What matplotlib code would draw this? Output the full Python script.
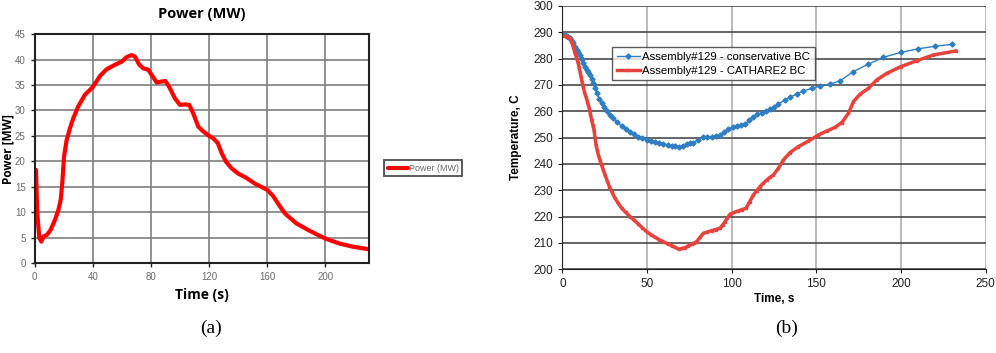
import numpy as np
import matplotlib
matplotlib.use('Agg')
import matplotlib.pyplot as plt

# ===== DATA =====
# (a) power transient
power_t = [0.9, 1.8, 3.2, 4.6, 6, 8.3, 11, 14, 16.3, 17.9, 19, 20.2, 22, 24.3, 26.6, 30,
           34.6, 40, 45, 49.5, 55.3, 59.9, 63.3, 66.7, 69, 72, 74.8, 78.2, 80.5, 84, 87.4,
           90, 93, 96.5, 100, 103.4, 106.4, 109, 112.6, 116, 120, 123, 126, 128.7, 131.7,
           135.6, 140, 145.9, 151.6, 160, 164, 167.7, 172, 180, 189.4, 200, 210, 219, 230]
power_mw = [18.3, 9.8, 4.9, 4.2, 5.2, 5.5, 6.5, 8.5, 10.4, 12.4, 15.7, 20.9, 24.2, 26.5, 28.5, 30.8,
            33.1, 34.6, 36.8, 38.1, 39.0, 39.6, 40.5, 40.9, 40.6, 39.0, 38.3, 38.0, 37.0, 35.5, 35.7,
            35.8, 34.4, 32.4, 31.1, 31.2, 31.1, 29.5, 26.8, 25.9, 25.0, 24.5, 23.6, 21.6, 19.9,
            18.6, 17.6, 16.7, 15.6, 14.4, 13.2, 11.6, 9.8, 7.8, 6.3, 4.8, 3.8, 3.2, 2.7]

# (b) assembly #129 temperature, conservative BC
cons_t = [0, 1.3, 2.6, 3.5, 4.5, 5.5, 6.5, 7.5, 8.5, 9.5, 10.4, 11.4, 12.4, 13.4, 14.4, 15.3,
          16.3, 17.3, 18.3, 19.3, 20.3, 21.7, 23.2, 24.7, 26.2, 28.1, 30.1, 32.5, 35, 37.5,
          40, 42.5, 44.9, 47.3, 49.8, 52.2, 54.7, 57.1, 59.6, 62.1, 64.6, 66.7, 68.9, 71.1,
          73.4, 75.4, 77.4, 80.3, 83.3, 85.7, 88.2, 90.6, 93.1, 95.5, 98, 100.5, 103, 105.4,
          107.9, 110.3, 112.8, 115.2, 117.7, 120.1, 122.6, 125.1, 127.6, 131.5, 134.4, 138.4,
          142.3, 147.2, 152.2, 158, 164, 171.9, 180.3, 189.6, 200, 209.8, 220, 229.9]
cons_temp = [289.0, 288.9, 288.7, 288.3, 287.7, 286.8, 285.8, 284.6, 283.3, 282.4, 281.4, 279.8,
             278.2, 277.0, 275.7, 274.8, 273.8, 272.2, 270.6, 268.7, 266.8, 264.8, 263.0, 261.5,
             260.1, 258.6, 257.3, 255.8, 254.4, 253.3, 252.3, 251.3, 250.4, 249.7, 249.1, 248.6,
             248.2, 247.8, 247.5, 247.2, 246.9, 246.7, 246.6, 247.0, 247.5, 247.8, 248.1, 249.2,
             250.1, 250.3, 250.4, 250.6, 251.0, 252.0, 253.2, 253.9, 254.4, 254.8, 255.1, 256.6,
             258.0, 258.8, 259.5, 260.2, 260.8, 261.8, 262.8, 264.3, 265.3, 266.6,
             267.7, 268.7, 269.6, 270.3, 271.6, 275.1, 277.8, 280.5, 282.4, 283.7, 284.7, 285.4]

# (b) assembly #129 temperature, CATHARE2 BC
cath_t = [0, 1.3, 2.6, 3.5, 4.5, 5.3, 6.1, 6.8, 7.5, 8.3, 9.1, 9.8, 10.4, 11.0, 11.6, 12.3,
          13.0, 13.9, 14.8, 15.3, 15.9, 16.6, 17.3, 18.0, 18.7, 19.3, 19.9, 20.6, 21.3, 22.2,
          23.2, 24.2, 25.2, 26.5, 27.8, 29.4, 31.1, 33.0, 35, 37.5, 40, 42.5, 44.9, 47.3,
          49.8, 52.2, 54.7, 57.1, 59.6, 62.1, 64.6, 66.7, 68.9, 70.6, 72.4, 74.4, 76.4, 77.8,
          79.3, 81.3, 83.3, 85.7, 88.2, 90.6, 93.1, 94.6, 96.1, 97.5, 99, 101.5, 103.9, 106.2,
          108.5, 110.6, 112.8, 114.7, 116.7, 118.7, 120.7, 122.6, 124.6, 127.6, 130.5, 134.4,
          139.4, 145.3, 151.2, 156.1, 161, 165, 168.9, 171.9, 175.8, 180.7, 185.6, 191.5,
          200, 209.3, 219.1, 232.3]
cath_temp = [288.6, 288.5, 288.4, 288.1, 287.7, 286.6, 285.2, 283.6, 282.0, 280.5, 278.9, 277.0,
             275.1, 273.2, 271.3, 269.4, 267.5, 265.6, 263.7, 262.4, 261.1, 258.9, 256.7, 254.8,
             252.9, 250.0, 247.2, 245.3, 243.4, 241.5, 239.6, 237.7, 235.8, 233.6, 231.4, 229.2,
             227.0, 225.1, 223.2, 221.6, 220.0, 218.6, 217.2, 215.7, 214.3, 213.2, 212.2, 211.3,
             210.5, 209.7, 209.0, 208.3, 207.6, 207.9, 208.2, 208.9, 209.6, 210.0, 210.5, 212.1,
             213.7, 214.2, 214.7, 215.1, 215.6, 216.8, 218.1, 219.5, 220.9, 221.6, 222.2, 222.7,
             223.2, 225.7, 228.2, 229.8, 231.4, 232.7, 233.9, 234.9, 235.8, 238.4, 241.5, 244.3,
             246.6, 248.7, 251.0, 252.5, 253.9, 255.7, 259.2, 263.7, 266.5, 268.7, 271.9, 274.4,
             277.0, 279.2, 281.4, 282.9]

# ===== FIGURE =====
fig = plt.figure(figsize=(9.96, 3.53), dpi=100)
plt.rcParams['font.family'] = ['Liberation Sans', 'DejaVu Sans']

# ---- (a) ----
ax1 = fig.add_axes([0.0348, 0.255, 0.3356, 0.648])
ax1.plot(power_t, power_mw, color='#ff0000', lw=3.0, label='Power (MW)', solid_capstyle='round')
ax1.set_xlim(0, 230)
ax1.set_ylim(0, 45)
ax1.set_xticks(range(0, 201, 40))
ax1.set_yticks(range(0, 46, 5))
ax1.grid(True, color='#7f7f7f', lw=1.2)
ax1.set_axisbelow(True)
for s in ax1.spines.values():
    s.set_color('#222222')
    s.set_linewidth(1.5)
ax1.tick_params(labelsize=7, colors='#222222', labelcolor='#6a6a6a', length=3, width=1)
ax1.set_title('Power (MW)', fontsize=10.5, fontweight='bold', pad=12, family=['Open Sans', 'DejaVu Sans'])
ax1.set_xlabel('Time (s)', fontsize=10, fontweight='bold', labelpad=4, family=['Open Sans', 'DejaVu Sans'])
ax1.set_ylabel('Power [MW]', fontsize=8.5, fontweight='bold', va='center',
               family=['Open Sans', 'DejaVu Sans'])
ax1.yaxis.set_label_coords(-0.081, 0.5)
leg1 = fig.legend(loc='center', bbox_to_anchor=(0.425, 0.523), fontsize=6.5, frameon=True,
                  fancybox=False, handlelength=2.2, handletextpad=0.1, borderpad=0.4,
                  labelcolor='#6a6a6a')
leg1.get_frame().set_edgecolor('#222222')
leg1.get_frame().set_linewidth(1.3)

# ---- (b) ----
ax2 = fig.add_axes([0.5646, 0.2371, 0.4251, 0.746])
ax2.plot(cons_t, cons_temp, color='#2f7ec4', lw=1.0, marker='D', ms=2.6,
         label='Assembly#129 - conservative BC')
ax2.plot(cath_t, cath_temp, color='#e8423d', lw=2.5, marker='s', ms=2.0,
         label='Assembly#129 - CATHARE2 BC')
ax2.set_xlim(0, 250)
ax2.set_ylim(200, 300)
ax2.set_xticks(range(0, 251, 50))
ax2.set_yticks(range(200, 301, 10))
ax2.yaxis.grid(True, color='#3a3a3a', lw=1.1)
ax2.xaxis.grid(True, color='#a8a8a8', lw=1.1)
ax2.set_axisbelow(True)
ax2.spines['top'].set_visible(False)
ax2.spines['right'].set_visible(False)
ax2.spines['left'].set_color('#222222')
ax2.spines['bottom'].set_color('#222222')
ax2.tick_params(labelsize=8.5, colors='#222222', length=3)
ax2.set_xlabel('Time, s', fontsize=8.5, fontweight='bold', labelpad=2)
ax2.set_ylabel('Temperature, C', fontsize=8.5, fontweight='bold', labelpad=8)
leg2 = ax2.legend(loc='upper left', bbox_to_anchor=(0.105, 0.865), fontsize=8.2, frameon=True,
                  fancybox=False, handlelength=2.0, handletextpad=0.2, borderpad=0.4,
                  labelspacing=0.35)
leg2.get_frame().set_edgecolor('#333333')
leg2.get_frame().set_linewidth(1.0)

# captions
fig.text(0.212, 0.07, '(a)', fontsize=14, ha='center', va='center', family=['Liberation Serif'])
fig.text(0.790, 0.07, '(b)', fontsize=14, ha='center', va='center', family=['Liberation Serif'])

fig.savefig('out.png', dpi=100)
plt.close(fig)
